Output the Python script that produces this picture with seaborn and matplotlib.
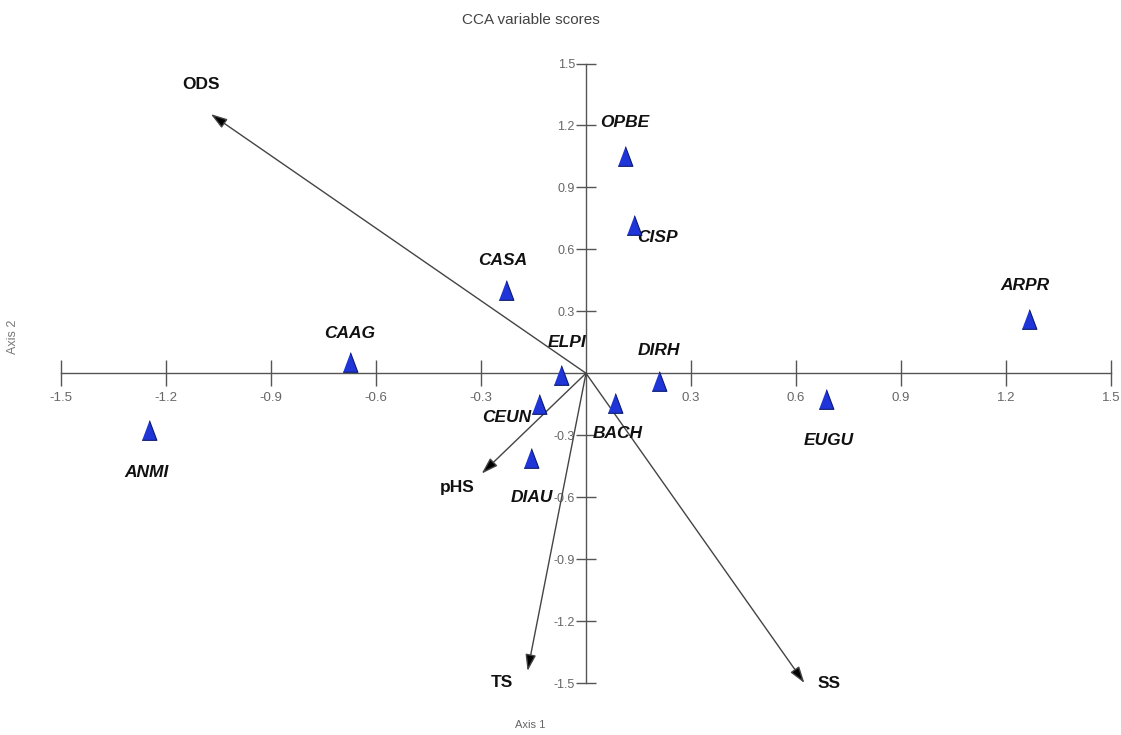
import numpy as np
import pandas as pd
import matplotlib
matplotlib.use("Agg")
import matplotlib.pyplot as plt
import seaborn as sns

# species scores (axis 1, axis 2)
species = ["OPBE", "CISP", "CASA", "ARPR", "CAAG", "ELPI",
           "DIRH", "CEUN", "BACH", "EUGU", "ANMI", "DIAU"]
sp_axis1 = [0.111, 0.137, -0.229, 1.266, -0.675, -0.071,
            0.208, -0.133, 0.083, 0.686, -1.249, -0.158]
sp_axis2 = [1.051, 0.717, 0.402, 0.264, 0.053, -0.010,
            -0.038, -0.150, -0.143, -0.125, -0.273, -0.408]

# environmental variable arrows
env_vars = ["ODS", "pHS", "TS", "SS"]
env_axis1 = [-1.072, -0.298, -0.167, 0.624]
env_axis2 = [1.255, -0.486, -1.442, -1.500]

ticks = [-1.5, -1.2, -0.9, -0.6, -0.3, 0.3, 0.6, 0.9, 1.2, 1.5]

# label offsets in pixels (layout only)
sp_offsets = {
    "OPBE": (0, 34), "CISP": (24, -12), "CASA": (-3, 30), "ARPR": (-4, 33),
    "CAAG": (0, 29), "ELPI": (6, 33), "DIRH": (0, 31), "CEUN": (-33, -13),
    "BACH": (3, -31), "EUGU": (3, -41), "ANMI": (-2, -43), "DIAU": (1, -40),
}
env_offsets = {"ODS": (-10, 30), "pHS": (-25, -14), "TS": (-26, -11), "SS": (25, 0)}

sns.set_style("white")
plt.rcParams["font.family"] = ["DejaVu Sans Condensed", "Liberation Sans", "DejaVu Sans"]

df = pd.DataFrame({"species": species, "axis1": sp_axis1, "axis2": sp_axis2})

fig = plt.figure(figsize=(11.21, 7.35), dpi=100)
ax = fig.add_axes([61 / 1121, 52 / 735, 1050 / 1121, 619.5 / 735])

axis_col = "#555555"
ax.set_xlim(-1.5, 1.5)
ax.set_ylim(-1.5, 1.5)
for side in ["top", "right"]:
    ax.spines[side].set_visible(False)
for side in ["left", "bottom"]:
    ax.spines[side].set_position(("data", 0))
    ax.spines[side].set_color(axis_col)
    ax.spines[side].set_linewidth(1.0)

ax.set_xticks(ticks)
ax.set_yticks(ticks)
ax.set_xticklabels([f"{t:.1f}" for t in ticks])
ax.set_yticklabels([f"{t:.1f}" for t in ticks])
ax.tick_params(axis="x", bottom=True, direction="inout", length=19, width=1,
               color=axis_col, labelsize=9.5, labelcolor="#666666", pad=4)
ax.tick_params(axis="y", left=True, direction="inout", length=14, width=1,
               color=axis_col, labelsize=9, labelcolor="#666666", pad=1)

# arrows for environmental variables
for name, x, y in zip(env_vars, env_axis1, env_axis2):
    ax.annotate("", xy=(x, y), xytext=(0, 0),
                arrowprops=dict(arrowstyle="-|>,head_length=1.0,head_width=0.32",
                                ec="#444444", fc="black", lw=1.0,
                                shrinkA=0, shrinkB=0),
                annotation_clip=False)
    dx, dy = env_offsets[name]
    ax.annotate(name, xy=(x, y), xytext=(dx, dy), textcoords="offset pixels",
                ha="center", va="center", fontsize=12.5, fontweight="bold",
                color="#111111", annotation_clip=False)

# species points
tri = [(-0.75, -1.0), (0.75, -1.0), (0.0, 1.0)]
sns.scatterplot(data=df, x="axis1", y="axis2", marker=tri, s=200,
                color="#1f35d8", edgecolor="#0b1a6e", linewidth=0.8,
                ax=ax, zorder=5, clip_on=False, legend=False)

for name, x, y in zip(species, sp_axis1, sp_axis2):
    dx, dy = sp_offsets[name]
    ax.annotate(name, xy=(x, y), xytext=(dx, dy), textcoords="offset pixels",
                ha="center", va="center", fontsize=12.5, fontweight="bold",
                fontstyle="italic", color="#111111", annotation_clip=False)

ax.set_xlabel("")
ax.set_ylabel("")
fig.text(0.4737, 0.9728, "CCA variable scores", ha="center", va="center",
         fontsize=11, color="#444444")
fig.text(0.4728, 0.0136, "Axis 1", ha="center", va="center",
         fontsize=8, color="#666666")
fig.text(0.012, 0.5415, "Axis 2", ha="center", va="center", rotation=90,
         fontsize=9, color="#777777")

fig.savefig("out.png", dpi=100)
